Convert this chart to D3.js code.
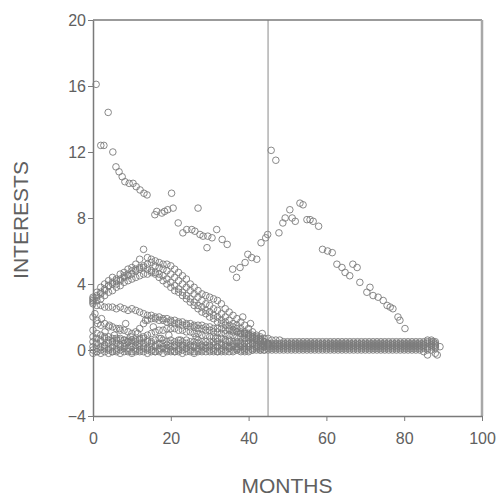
<!DOCTYPE html>
<html><head><meta charset="utf-8">
<script src="https://cdn.jsdelivr.net/npm/d3@7"></script>
<style>body{margin:0;background:#fff}svg{display:block}</style>
</head><body>
<script>
// ---- data ----
const xTicks = [0, 20, 40, 60, 80, 100];
const yTicks = [-4, 0, 4, 8, 12, 16, 20];
const markerMonth = 45;
const xLabel = "MONTHS";
const yLabel = "INTERESTS";

// top irregular series [month, interest]
const topSeries = [
 [0.8,16.1],[2.0,12.4],[2.8,12.4],[3.9,14.4],[5.1,12.0],[5.9,11.1],[6.7,10.8],[7.5,10.5],[8.2,10.2],[9.3,10.1],
 [10.3,10.1],[11.1,9.9],[12.1,9.7],[13.1,9.5],[13.9,9.4],[15.9,8.2],[16.4,8.4],[17.7,8.3],[18.4,8.4],[19.2,8.5],
 [20.6,8.6],[20.2,9.5],[21.9,7.7],[23.1,7.1],[24.1,7.3],[25.4,7.3],[26.2,7.2],[27.0,8.6],[27.5,7.0],[28.3,6.9],
 [29.3,6.2],[29.5,6.9],[30.6,6.8],[31.8,7.3],[33.2,6.7],[34.5,6.4],[35.9,4.9],[36.9,4.4],[37.8,5.0],[39.1,5.3],
 [39.8,5.8],[40.8,5.6],[42.1,5.5],[43.2,6.5],[44.4,6.8],[44.9,7.0],[45.8,12.1],[47.0,11.5],[47.8,7.1],[48.8,7.7],
 [49.4,8.0],[50.6,8.5],[51.2,8.0],[52.0,7.8],[53.2,8.9],[54.0,8.8],[55.0,7.9],[55.8,7.9],[56.6,7.8],[58.0,7.5],
 [59.0,6.1],[60.3,6.0],[61.5,5.9],[62.7,5.2],[64.0,5.0],[64.8,4.7],[66.0,4.5],[66.8,5.2],[67.9,5.0],[68.6,4.1],
 [70.4,3.5],[71.2,3.8],[72.0,3.3],[73.3,3.2],[74.6,3.0],[75.6,2.7],[76.4,2.6],[77.1,2.5],[78.4,2.0],[78.9,1.8],[80.2,1.3]
];

// monthly series, index = month
const hump1 = [3.2,3.5,3.8,4.0,4.2,4.4,4.3,4.6,4.7,4.9,5.0,5.2,5.5,6.1,5.6,5.5,5.4,5.3,5.2,5.2,5.1,4.9,4.7,4.5,4.3,4.0,3.8,3.6,3.4,3.3,3.2,3.1,3.0,2.8,2.5,2.3,2.1,1.9,1.7,1.5,1.3,1.1,0.9,0.7,0.5,0.4];
const hump2 = [3.0,3.2,3.4,3.6,3.9,4.0,4.2,4.3,4.5,4.6,4.8,4.9,5.0,5.1,5.2,5.3,5.1,5.0,4.9,4.8,4.6,4.4,4.2,4.0,3.8,3.6,3.4,3.2,3.0,2.8,2.7,2.5,2.4,2.2,2.0,1.8,1.6,1.5,1.3,1.1,1.0,0.8,0.7,0.6,0.5,0.4];
const hump3 = [2.9,3.0,3.1,3.3,3.5,3.6,3.8,3.9,4.1,4.2,4.3,4.4,4.5,4.6,4.6,4.7,4.7,4.6,4.5,4.3,4.1,3.9,3.7,3.5,3.3,3.1,2.9,2.7,2.6,2.4,2.3,2.1,2.0,1.8,1.7,1.5,1.4,1.3,1.1,1.0,0.9,0.8,0.7,0.6,0.5,0.4];
const hump4 = [3.1,3.3,3.5,3.7,3.9,4.1,4.0,4.2,4.4,4.5,4.6,4.8,4.9,5.0,4.9,4.8,4.6,4.4,4.2,4.0,3.8,3.6,3.5,3.3,3.1,2.9,2.7,2.5,2.3,2.2,2.0,1.9,1.7,1.6,1.5,1.3,1.2,1.1,1.0,0.9,0.8,0.7,0.6,0.5,0.4,0.35];
const line1 = [2.8,2.7,2.7,2.6,2.6,2.6,2.5,2.6,2.5,2.4,2.5,2.4,2.3,2.2,2.1,2.1,2.0,2.0,1.9,1.9,1.8,1.8,1.7,1.7,1.6,1.6,1.5,1.5,1.5,1.4,
 1.4,1.3,1.3,1.3,1.2,1.2,1.1,1.1,1.0,1.0,0.9,0.9,0.8,0.8,0.7,0.7,0.6,0.6,0.6,0.5,0.5,0.5,0.5,0.5,0.5,0.5,0.5,0.5,0.5,0.5,
 0.5,0.5,0.5,0.5,0.5,0.5,0.5,0.5,0.5,0.5,0.5,0.5,0.5,0.5,0.5,0.5,0.5,0.5,0.5,0.5,0.5,0.5,0.5,0.5,0.5,0.5,0.6,0.4,0.5];
const line2 = [2.0,1.8,1.5,1.6,1.4,1.4,1.3,1.2,1.2,1.1,1.0,1.1,1.3,1.6,1.8,1.9,1.9,1.8,1.8,1.7,1.7,1.6,1.6,1.5,1.5,1.4,1.4,1.3,1.3,1.2,
 1.2,1.1,1.1,1.0,1.0,0.9,0.9,0.8,0.8,0.7,0.7,0.6,0.6,0.5,0.5,0.4,0.4,0.4,0.4,0.4,0.4,0.4,0.4,0.4,0.4,0.4,0.4,0.4,0.4,0.4,
 0.4,0.4,0.4,0.4,0.4,0.4,0.4,0.4,0.4,0.4,0.4,0.4,0.4,0.4,0.4,0.4,0.4,0.4,0.4,0.4,0.4,0.4,0.4,0.4,0.4,0.4,0.5,0.3,0.4];
const line3 = [1.2,1.0,0.9,0.8,0.8,0.7,0.7,0.6,0.6,0.6,0.5,0.6,0.7,0.8,0.9,1.0,1.1,1.2,1.2,1.3,1.3,1.3,1.2,1.2,1.1,1.1,1.0,1.0,0.9,0.9,
 0.8,0.8,0.7,0.7,0.6,0.6,0.5,0.5,0.5,0.4,0.4,0.4,0.3,0.3,0.3,0.3,0.3,0.3,0.3,0.3,0.3,0.3,0.3,0.3,0.3,0.3,0.3,0.3,0.3,0.3,
 0.3,0.3,0.3,0.3,0.3,0.3,0.3,0.3,0.3,0.3,0.3,0.3,0.3,0.3,0.3,0.3,0.3,0.3,0.3,0.3,0.3,0.3,0.3,0.3,0.3,0.3,0.4,0.2,0.3];
const zero1 = [0.0,-0.1,0.0,0.1,0.0,-0.1,0.0,0.0,0.1,0.0,-0.1,0.0,0.0,0.1,0.0,0.0,-0.1,0.0,0.1,0.0,0.0,-0.1,0.0,0.0,0.1,0.0,-0.2,0.0,0.0,0.1,
 0.0,0.0,-0.1,0.0,0.0,0.1,0.0,0.0,0.0,-0.1,0.0,0.0,0.1,0.0,0.0,0.0,0.0,0.0,0.0,0.0,0.0,0.0,0.0,0.0,0.0,0.0,0.0,0.0,0.0,0.0,
 0.0,0.0,0.0,0.0,0.0,0.0,0.0,0.0,0.0,0.0,0.0,0.0,0.0,0.0,0.0,0.0,0.0,0.0,0.0,0.0,0.0,0.0,0.0,0.0,0.0,-0.1,-0.3,0.0,-0.2];
const zero2 = [0.2,0.1,0.2,0.2,0.1,0.2,0.1,0.2,0.2,0.1,0.2,0.1,0.2,0.2,0.1,0.2,0.2,0.1,0.2,0.1,0.2,0.2,0.1,0.2,0.1,0.2,0.2,0.1,0.2,0.1,
 0.2,0.1,0.2,0.1,0.2,0.1,0.2,0.1,0.2,0.1,0.2,0.1,0.2,0.1,0.2,0.1,0.1,0.1,0.1,0.1,0.1,0.1,0.1,0.1,0.1,0.1,0.1,0.1,0.1,0.1,
 0.1,0.1,0.1,0.1,0.1,0.1,0.1,0.1,0.1,0.1,0.1,0.1,0.1,0.1,0.1,0.1,0.1,0.1,0.1,0.1,0.1,0.1,0.1,0.1,0.1,0.1,0.0,0.3,0.1];
const zero3 = [0.5,0.4,0.5,0.3,0.4,0.5,0.4,0.3,0.4,0.5,0.4,0.3,0.4,0.4,0.5,0.4,0.3,0.4,0.4,0.3,0.4,0.3,0.4,0.3,0.4,0.3,0.3,0.4,0.3,0.3,
 0.3,0.3,0.2,0.3,0.3,0.2,0.3,0.2,0.3,0.2,0.2,0.3,0.2,0.2,0.2,0.2,0.2,0.2,0.2,0.2,0.2,0.2,0.2,0.2,0.2,0.2,0.2,0.2,0.2,0.2,
 0.2,0.2,0.2,0.2,0.2,0.2,0.2,0.2,0.2,0.2,0.2,0.2,0.2,0.2,0.2,0.2,0.2,0.2,0.2,0.2,0.2,0.2,0.2,0.2,0.2,0.2,0.1,0.5,0.2];
const zero4 = [-0.2,-0.1,-0.2,-0.1,-0.2,-0.1,-0.1,-0.2,-0.1,-0.1,-0.2,-0.1,-0.1,-0.1,-0.2,-0.1,-0.1,-0.1,-0.2,-0.1,-0.1,-0.1,-0.1,-0.2,-0.1,-0.1,-0.1,-0.1,-0.1,-0.1,
 -0.1,-0.1,-0.1,-0.1,-0.1,-0.1,-0.1,0.0,-0.1,0.0,-0.1,0.0,0.0,0.0,0.0];
const zero5 = [0.8,0.7,0.6,0.7,0.6,0.5,0.6,0.7,0.6,0.5,0.6,0.5,0.6,0.7,0.6,0.5,0.6,0.7,0.6,0.5,0.6,0.5,0.6,0.5,0.6,0.5,0.5,0.6,0.5,0.5,
 0.5,0.5,0.5,0.4,0.5,0.5,0.4,0.4,0.4,0.4,0.4,0.4,0.3,0.3,0.3,0.3,0.3,0.3,0.3,0.3,0.3,0.3,0.3,0.3,0.3,0.3,0.3,0.3,0.3,0.3,
 0.3,0.3,0.3,0.3,0.3,0.3,0.3,0.3,0.3,0.3,0.3,0.3,0.3,0.3,0.3,0.3,0.3,0.3,0.3,0.3,0.3,0.3,0.3,0.3,0.3,0.3,0.2,0.6,0.3];
// scattered extra points near the lower left [month, interest]
const extraPoints = [[0.5,2.2],[1.2,1.6],[2.2,1.9],[3.1,1.1],[4.2,1.5],[5.5,0.9],[6.8,1.3],[8.4,1.6],[9.6,0.8],[11.5,1.0],[13.5,1.8],[15.5,1.4],[17.5,0.7],[19.5,0.9],[22.5,0.6],[26.5,0.8],[31.5,0.7],[38.5,2.0],[40.5,1.6],[43.5,1.0],[87.5,0.5],[88.5,-0.3],[89.2,0.2]];

const monthlySeries = [hump1, hump2, hump3, hump4, line1, line2, line3, zero1, zero2, zero3, zero4, zero5];

// ---- chart ----
const W = 501, H = 497;
const svg = d3.select("body").append("svg").attr("width", W).attr("height", H);
const x = d3.scaleLinear().domain([0, 100]).range([93, 482]);
const y = d3.scaleLinear().domain([-4, 20]).range([416, 20]);
const axisColor = "#7a7a7a", textColor = "#606060";

const points = [];
topSeries.forEach(p => points.push(p));
monthlySeries.forEach(s => s.forEach((v, i) => points.push([i, v])));
extraPoints.forEach(p => points.push(p));

svg.append("g").selectAll("circle").data(points).join("circle")
  .attr("cx", d => x(d[0])).attr("cy", d => y(d[1])).attr("r", 3.3)
  .attr("fill", "none").attr("stroke", "#7c7c7c").attr("stroke-width", 0.9);

// vertical marker
svg.append("line").attr("x1", x(markerMonth)).attr("x2", x(markerMonth))
  .attr("y1", y(20)).attr("y2", y(-4)).attr("stroke", "#8a8a8a").attr("stroke-width", 1);

// frame
svg.append("line").attr("x1", x(0)).attr("x2", x(100)).attr("y1", y(20)).attr("y2", y(20)).attr("stroke", axisColor).attr("stroke-width", 1.5);
svg.append("line").attr("x1", x(100)).attr("x2", x(100)).attr("y1", y(20)).attr("y2", y(-4)).attr("stroke", "#a8a8a8").attr("stroke-width", 2.5);

const xa = svg.append("g").attr("transform", `translate(0,${y(-4)})`)
  .call(d3.axisBottom(x).tickValues(xTicks).tickSize(5).tickPadding(12).tickSizeOuter(0));
const ya = svg.append("g").attr("transform", `translate(${x(0)},0)`)
  .call(d3.axisLeft(y).tickValues(yTicks).tickSize(5).tickPadding(2).tickSizeOuter(0));
[xa, ya].forEach(g => {
  g.select(".domain").attr("stroke", axisColor).attr("stroke-width", 1.5);
  g.selectAll(".tick line").attr("stroke", axisColor);
  g.selectAll("text").attr("fill", textColor).attr("font-family", "Liberation Sans, Arial, sans-serif").attr("font-size", 16);
});

svg.append("text").attr("x", 287).attr("y", 493).attr("text-anchor", "middle")
  .attr("font-family", "Liberation Sans, Arial, sans-serif").attr("font-size", 21).attr("fill", textColor).text(xLabel);
svg.append("text").attr("transform", "translate(28,220) rotate(-90)").attr("text-anchor", "middle")
  .attr("font-family", "Liberation Sans, Arial, sans-serif").attr("font-size", 21).attr("fill", textColor).text(yLabel);
</script>
</body></html>
